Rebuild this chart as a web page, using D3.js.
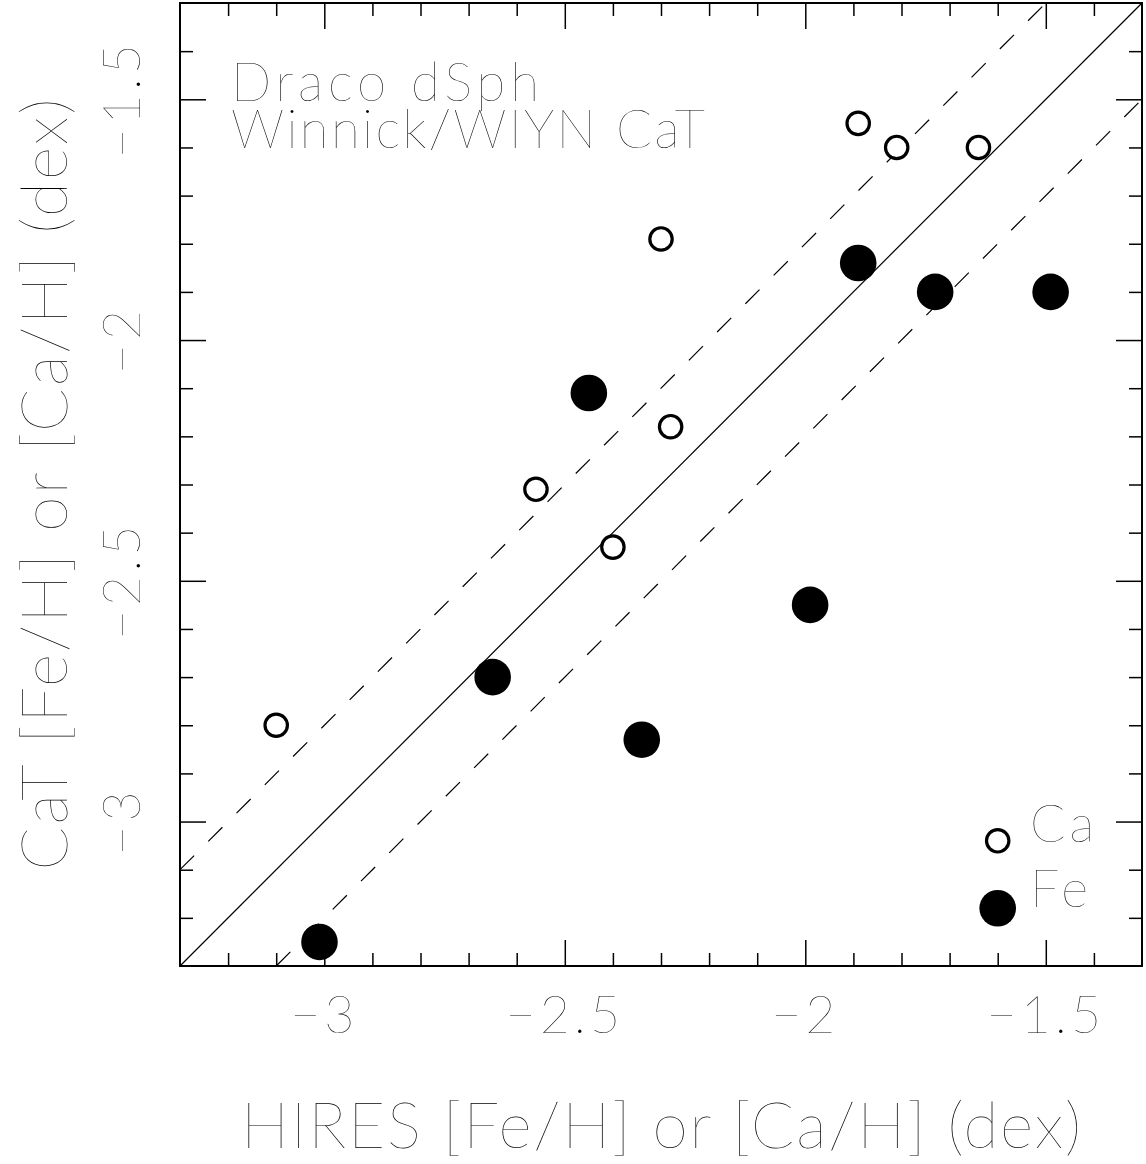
<!DOCTYPE html>
<html>
<head>
<meta charset="utf-8">
<script src="https://cdn.jsdelivr.net/npm/d3@7"></script>
<style>
  body { margin: 0; background: #fff; }
  text { font-family: Lato, "DejaVu Sans", sans-serif; font-weight: 100; fill: #000; }
</style>
</head>
<body>
<div></div>
<script>
var width = 1146;
var height = 1164;

// HIRES abundance (x) vs CaT abundance (y)
var caX = [-1.89, -1.81, -1.64, -2.30, -2.28, -2.56, -2.40, -3.10];
var caY = [-1.55, -1.60, -1.60, -1.79, -2.18, -2.31, -2.43, -2.80];
var feX = [-1.89, -1.73, -1.49, -2.45, -1.99, -2.65, -2.34, -3.01];
var feY = [-1.84, -1.90, -1.90, -2.11, -2.55, -2.70, -2.83, -3.25];

var majorTicks = [-3, -2.5, -2, -1.5];
var minorTicks = [-3.2, -3.1, -2.9, -2.8, -2.7, -2.6, -2.4, -2.3, -2.2, -2.1, -1.9, -1.8, -1.7, -1.6, -1.4];
var offsets = [0, 0.2, -0.2]; // 1:1 line and +-0.2 dex

var legendItems = ["Ca", "Fe"];
var legendY = [-3.04, -3.18];
var legendX = -1.6;

var title = ["Draco dSph", "Winnick/WIYN CaT"];
var xLabel = "HIRES [Fe/H] or [Ca/H] (dex)";
var yLabel = "CaT [Fe/H] or [Ca/H] (dex)";

var domain = [-3.3, -1.3];
var plot = { left: 180, right: 1142, top: 3, bottom: 966 };

var x = d3.scaleLinear().domain(domain).range([plot.left, plot.right]);
var y = d3.scaleLinear().domain(domain).range([plot.bottom, plot.top]);

var svg = d3.select("div")
  .append("svg")
  .attr("width", width)
  .attr("height", height);

var fmt = (d) => d3.format("")(d);

// inward ticks on all four sides, major and minor
var tickAxis = (axis, scale, vals, size) =>
  axis(scale).tickValues(vals).tickSize(-size).tickFormat("");

var addTicks = (g) => {
  [[minorTicks, 13], [majorTicks, 26]].forEach(([vals, size]) => {
    g.append("g").attr("transform", `translate(0,${plot.bottom})`).call(tickAxis(d3.axisBottom, x, vals, size));
    g.append("g").attr("transform", `translate(0,${plot.top})`).call(tickAxis(d3.axisTop, x, vals, size));
    g.append("g").attr("transform", `translate(${plot.left},0)`).call(tickAxis(d3.axisLeft, y, vals, size));
    g.append("g").attr("transform", `translate(${plot.right},0)`).call(tickAxis(d3.axisRight, y, vals, size));
  });
  g.selectAll(".domain").remove();
  g.selectAll(".tick line").attr("stroke", "#000").attr("stroke-width", 1.5);
};

svg.append("g").call(addTicks);

// frame
svg.append("rect")
  .attr("x", plot.left)
  .attr("y", plot.top)
  .attr("width", plot.right - plot.left)
  .attr("height", plot.bottom - plot.top)
  .attr("fill", "none")
  .attr("stroke", "#000")
  .attr("stroke-width", 2);

// tick labels
svg.append("g")
  .selectAll("text")
  .data(majorTicks)
  .join("text")
  .attr("x", (d) => x(d))
  .attr("y", 1033)
  .attr("text-anchor", "middle")
  .attr("font-size", 52)
  .attr("letter-spacing", 4)
  .text(fmt);

svg.append("g")
  .selectAll("text")
  .data(majorTicks)
  .join("text")
  .attr("transform", (d) => `translate(140,${y(d)}) rotate(-90)`)
  .attr("text-anchor", "middle")
  .attr("font-size", 52)
  .attr("letter-spacing", 4)
  .text(fmt);

// axis titles
svg.append("text")
  .attr("x", (plot.left + plot.right) / 2)
  .attr("y", 1148)
  .attr("text-anchor", "middle")
  .attr("font-size", 64)
  .attr("textLength", 840)
  .text(xLabel);

svg.append("text")
  .attr("transform", `translate(67,${(plot.top + plot.bottom) / 2}) rotate(-90)`)
  .attr("text-anchor", "middle")
  .attr("font-size", 64)
  .attr("textLength", 772)
  .text(yLabel);

// reference lines
var lines = svg.append("g");
offsets.forEach((o) => {
  var x0 = Math.max(domain[0], domain[0] - o);
  var x1 = Math.min(domain[1], domain[1] - o);
  lines.append("line")
    .attr("x1", x(x0))
    .attr("y1", y(x0 + o))
    .attr("x2", x(x1))
    .attr("y2", y(x1 + o))
    .attr("stroke", "#000")
    .attr("stroke-width", 1.2)
    .attr("stroke-dasharray", o === 0 ? null : "20,20");
});

// points
svg.append("g")
  .selectAll("circle")
  .data(caX.map((d, i) => [d, caY[i]]))
  .join("circle")
  .attr("cx", (d) => x(d[0]))
  .attr("cy", (d) => y(d[1]))
  .attr("r", 11.2)
  .attr("fill", "#fff")
  .attr("stroke", "#000")
  .attr("stroke-width", 3.2);

svg.append("g")
  .selectAll("circle")
  .data(feX.map((d, i) => [d, feY[i]]))
  .join("circle")
  .attr("cx", (d) => x(d[0]))
  .attr("cy", (d) => y(d[1]))
  .attr("r", 18.3)
  .attr("fill", "#000");

// title text
svg.append("g")
  .selectAll("text")
  .data(title)
  .join("text")
  .attr("x", 231)
  .attr("y", (d, i) => 101 + i * 47)
  .attr("font-size", 53)
  .attr("textLength", (d, i) => [308, 474][i])
  .text((d) => d);

// legend
var legend = svg.append("g");
legendItems.forEach((name, i) => {
  if (name === "Ca") {
    legend.append("circle")
      .attr("cx", x(legendX))
      .attr("cy", y(legendY[i]))
      .attr("r", 11.2)
      .attr("fill", "#fff")
      .attr("stroke", "#000")
      .attr("stroke-width", 3.2);
  } else {
    legend.append("circle")
      .attr("cx", x(legendX))
      .attr("cy", y(legendY[i]))
      .attr("r", 18.3)
      .attr("fill", "#000");
  }
  legend.append("text")
    .attr("x", 1030)
    .attr("y", [842, 907][i])
    .attr("font-size", 52)
    .attr("letter-spacing", 4)
    .text(name);
});
</script>
</body>
</html>
